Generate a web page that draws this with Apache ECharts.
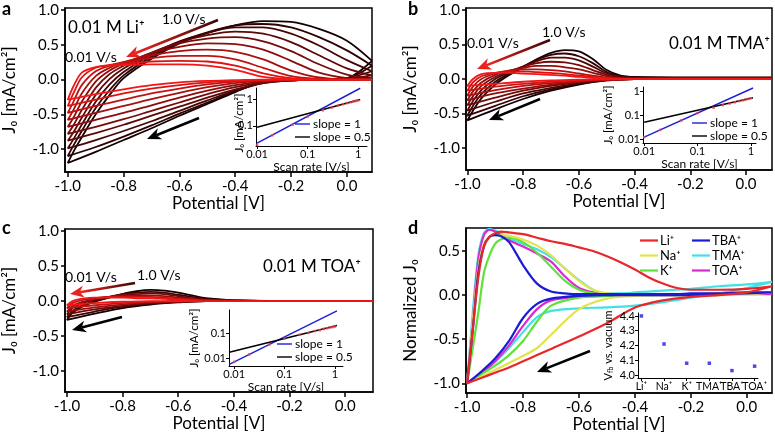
<!DOCTYPE html>
<html>
<head>
<meta charset="utf-8">
<script src="https://cdn.jsdelivr.net/npm/echarts@6/dist/echarts.min.js"></script>
<style>
  html, body { margin: 0; background: #fff; }
  #main { width: 775px; height: 437px; }
</style>
</head>
<body>
<div id="main"></div>
<script>
// ---------- data ----------
const potTicks = [-1.0, -0.8, -0.6, -0.4, -0.2, 0.0];
const jTicks = [-1.0, -0.5, 0.0, 0.5, 1.0];
const normTicks = [-1.0, -0.5, 0.0, 0.5];

// panel a : 0.01 M Li+, slowest (red) first .. fastest (black) last
const aCathPot = [0.09, 0.0, -0.1, -0.2, -0.3, -0.4, -0.5, -0.6, -0.7, -0.8, -0.9, -1.0];
const aAnodPot = [-0.98, -0.95, -0.9, -0.85, -0.8, -0.7, -0.6, -0.5, -0.4, -0.3, -0.2, -0.1, 0.0, 0.09];
const aCath = [
  [0.0, 0.0, 0.0, 0.0, 0.0, -0.01, -0.02, -0.04, -0.08, -0.14, -0.21, -0.29],
  [0.0, 0.0, 0.0, 0.0, -0.01, -0.02, -0.04, -0.08, -0.13, -0.2, -0.29, -0.38],
  [0.0, 0.0, 0.0, 0.0, -0.01, -0.03, -0.07, -0.13, -0.2, -0.29, -0.38, -0.48],
  [0.0, 0.0, 0.0, -0.01, -0.02, -0.05, -0.11, -0.19, -0.28, -0.38, -0.48, -0.58],
  [0.0, 0.0, 0.0, -0.01, -0.03, -0.08, -0.16, -0.26, -0.37, -0.48, -0.58, -0.68],
  [0.02, 0.01, 0.0, -0.01, -0.04, -0.11, -0.21, -0.33, -0.45, -0.57, -0.68, -0.78],
  [0.06, 0.01, 0.0, -0.01, -0.05, -0.14, -0.26, -0.39, -0.52, -0.65, -0.77, -0.88],
  [0.12, 0.02, 0.0, -0.01, -0.05, -0.16, -0.3, -0.45, -0.6, -0.74, -0.87, -0.99],
  [0.2, 0.02, 0.0, -0.01, -0.04, -0.17, -0.33, -0.49, -0.66, -0.82, -0.97, -1.1],
  [0.27, 0.02, 0.0, -0.01, -0.03, -0.18, -0.35, -0.52, -0.7, -0.87, -1.04, -1.2]
];
const aAnod = [
  [-0.1, 0.1, 0.18, 0.2, 0.21, 0.22, 0.22, 0.2, 0.14, 0.04, 0.01, 0.0, 0.0, 0.0],
  [-0.2, 0.03, 0.17, 0.21, 0.23, 0.26, 0.27, 0.26, 0.2, 0.09, 0.02, 0.0, 0.0, 0.0],
  [-0.32, -0.08, 0.12, 0.2, 0.25, 0.31, 0.34, 0.34, 0.29, 0.17, 0.05, 0.01, 0.0, 0.0],
  [-0.44, -0.2, 0.05, 0.17, 0.25, 0.35, 0.41, 0.43, 0.4, 0.29, 0.13, 0.03, 0.0, 0.0],
  [-0.55, -0.32, -0.03, 0.13, 0.23, 0.38, 0.47, 0.52, 0.51, 0.43, 0.27, 0.1, 0.02, 0.0],
  [-0.66, -0.44, -0.12, 0.08, 0.2, 0.39, 0.52, 0.59, 0.61, 0.55, 0.41, 0.22, 0.07, 0.02],
  [-0.76, -0.55, -0.22, 0.01, 0.16, 0.38, 0.54, 0.64, 0.69, 0.66, 0.54, 0.35, 0.16, 0.06],
  [-0.86, -0.65, -0.32, -0.07, 0.11, 0.36, 0.55, 0.67, 0.75, 0.75, 0.66, 0.49, 0.28, 0.12],
  [-0.95, -0.74, -0.41, -0.15, 0.06, 0.33, 0.54, 0.68, 0.78, 0.8, 0.75, 0.61, 0.42, 0.2],
  [-1.04, -0.83, -0.5, -0.22, 0.02, 0.3, 0.52, 0.67, 0.78, 0.84, 0.83, 0.73, 0.56, 0.27]
];

// panel b : 0.01 M TMA+
const bCathPot = [0.09, 0.0, -0.2, -0.4, -0.5, -0.6, -0.7, -0.8, -0.9, -1.0];
const bAnodPot = [-0.98, -0.95, -0.9, -0.85, -0.8, -0.75, -0.7, -0.65, -0.6, -0.55, -0.5, -0.45, -0.4, -0.2, 0.0, 0.09];
const bCath = [
  [0.0, 0.0, 0.0, 0.0, 0.0, -0.01, -0.02, -0.04, -0.07, -0.1],
  [0.0, 0.0, 0.0, 0.0, -0.01, -0.02, -0.04, -0.07, -0.11, -0.17],
  [0.0, 0.0, 0.0, 0.0, -0.01, -0.03, -0.06, -0.1, -0.16, -0.24],
  [0.01, 0.01, 0.01, 0.0, -0.01, -0.04, -0.08, -0.14, -0.21, -0.31],
  [0.01, 0.01, 0.01, 0.0, -0.01, -0.05, -0.1, -0.17, -0.27, -0.38],
  [0.02, 0.01, 0.01, 0.0, -0.01, -0.06, -0.13, -0.21, -0.33, -0.46],
  [0.02, 0.02, 0.01, 0.0, -0.02, -0.07, -0.15, -0.25, -0.39, -0.53],
  [0.02, 0.02, 0.01, 0.0, -0.02, -0.08, -0.17, -0.29, -0.44, -0.6]
];
const bAnod = [
  [0.0, 0.07, 0.09, 0.09, 0.08, 0.07, 0.06, 0.05, 0.03, 0.02, 0.01, 0.0, 0.0, 0.0, 0.0, 0.0],
  [-0.05, 0.04, 0.09, 0.11, 0.11, 0.1, 0.09, 0.07, 0.05, 0.03, 0.01, 0.0, 0.0, 0.0, 0.0, 0.0],
  [-0.11, 0.0, 0.08, 0.12, 0.14, 0.14, 0.13, 0.11, 0.08, 0.05, 0.02, 0.01, 0.0, 0.0, 0.0, 0.0],
  [-0.18, -0.05, 0.06, 0.12, 0.16, 0.19, 0.19, 0.17, 0.14, 0.09, 0.04, 0.01, 0.01, 0.01, 0.01, 0.01],
  [-0.25, -0.1, 0.03, 0.11, 0.18, 0.23, 0.25, 0.24, 0.2, 0.13, 0.06, 0.02, 0.01, 0.01, 0.01, 0.01],
  [-0.32, -0.16, 0.0, 0.1, 0.18, 0.26, 0.31, 0.31, 0.27, 0.18, 0.08, 0.03, 0.02, 0.02, 0.02, 0.02],
  [-0.39, -0.22, -0.04, 0.08, 0.18, 0.28, 0.35, 0.37, 0.33, 0.23, 0.1, 0.04, 0.02, 0.02, 0.02, 0.02],
  [-0.46, -0.28, -0.08, 0.06, 0.17, 0.29, 0.38, 0.42, 0.4, 0.29, 0.13, 0.05, 0.03, 0.02, 0.02, 0.02]
];

// panel c : 0.01 M TOA+
const cCathPot = [0.1, 0.0, -0.2, -0.4, -0.5, -0.6, -0.7, -0.8, -0.9, -1.0];
const cAnodPot = [-0.98, -0.95, -0.9, -0.85, -0.8, -0.75, -0.7, -0.65, -0.6, -0.55, -0.5, -0.4, -0.2, 0.0, 0.1];
const cCath = [
  [0, 0, 0, 0, 0, 0, 0, -0.01, -0.03, -0.06],
  [0, 0, 0, 0, 0, 0, -0.01, -0.03, -0.06, -0.1],
  [0, 0, 0, 0, 0, -0.01, -0.02, -0.05, -0.09, -0.15],
  [0, 0, 0, 0, 0, -0.01, -0.03, -0.07, -0.12, -0.19],
  [0, 0, 0, 0, 0, -0.01, -0.04, -0.08, -0.15, -0.23],
  [0, 0, 0, 0, 0, -0.02, -0.05, -0.1, -0.18, -0.27]
];
const cAnod = [
  [0.0, 0.03, 0.05, 0.05, 0.05, 0.04, 0.04, 0.03, 0.02, 0.01, 0.0, 0.0, 0.0, 0.0, 0.0],
  [-0.03, 0.01, 0.04, 0.06, 0.06, 0.06, 0.06, 0.05, 0.03, 0.02, 0.01, 0.0, 0.0, 0.0, 0.0],
  [-0.07, -0.02, 0.03, 0.06, 0.08, 0.08, 0.08, 0.07, 0.05, 0.03, 0.01, 0.0, 0.0, 0.0, 0.0],
  [-0.1, -0.04, 0.02, 0.06, 0.09, 0.1, 0.11, 0.1, 0.07, 0.04, 0.02, 0.01, 0.0, 0.0, 0.0],
  [-0.14, -0.07, 0.0, 0.05, 0.1, 0.12, 0.13, 0.12, 0.09, 0.06, 0.03, 0.01, 0.0, 0.0, 0.0],
  [-0.17, -0.09, -0.01, 0.05, 0.1, 0.14, 0.16, 0.15, 0.12, 0.08, 0.04, 0.01, 0.0, 0.0, 0.0]
];

// insets a-c : peak current vs scan rate
const scanRates = [0.01, 0.02, 0.05, 0.1, 0.2, 0.3, 0.4, 0.5, 0.6, 0.7, 0.8, 0.9, 1.0];
const peakA = [0.02, 0.045, 0.11, 0.22, 0.38, 0.48, 0.57, 0.64, 0.7, 0.75, 0.8, 0.84, 0.88];
const peakB = [0.012, 0.024, 0.06, 0.12, 0.2, 0.26, 0.3, 0.34, 0.38, 0.41, 0.44, 0.47, 0.5];
const peakC = [0.007, 0.014, 0.035, 0.06, 0.085, 0.1, 0.12, 0.13, 0.145, 0.155, 0.165, 0.172, 0.18];
const fitRateAB = [0.01, 1.1];
const fitRateC = [0.008, 1.1];
const slope1A = [0.023, 2.5], slopeHalfA = [0.09, 0.95];
const slope1B = [0.012, 1.33], slopeHalfB = [0.05, 0.52];
const slope1C = [0.0056, 0.77], slopeHalfC = [0.017, 0.2];

// panel d : normalized CVs
const dAnodPot = [-1.0, -0.98, -0.96, -0.94, -0.92, -0.9, -0.88, -0.85, -0.8, -0.75, -0.7, -0.65, -0.6, -0.55, -0.5, -0.45, -0.4, -0.35, -0.3, -0.25, -0.2, -0.1, 0.0, 0.09];
const dCathPot = [0.09, 0.0, -0.1, -0.2, -0.3, -0.4, -0.5, -0.6, -0.7, -0.75, -0.8, -0.85, -0.9, -0.95, -1.0];
const ionNames = ['Li⁺', 'Na⁺', 'K⁺', 'TBA⁺', 'TMA⁺', 'TOA⁺'];
const liAnod = [-1.0, -0.4, 0.2, 0.55, 0.66, 0.7, 0.72, 0.71, 0.69, 0.65, 0.61, 0.58, 0.54, 0.5, 0.44, 0.37, 0.29, 0.2, 0.13, 0.08, 0.06, 0.06, 0.07, 0.1];
const liCath = [0.1, 0.03, 0.0, -0.02, -0.06, -0.14, -0.32, -0.47, -0.61, -0.68, -0.75, -0.82, -0.88, -0.94, -1.0];
const naAnod = [-1.0, -0.3, 0.3, 0.58, 0.66, 0.68, 0.68, 0.67, 0.63, 0.56, 0.45, 0.3, 0.16, 0.06, 0.02, 0.01, 0.01, 0.01, 0.01, 0.01, 0.01, 0.02, 0.02, 0.03];
const naCath = [0.03, 0.01, 0.0, 0.0, 0.0, -0.01, -0.04, -0.16, -0.45, -0.6, -0.69, -0.77, -0.85, -0.93, -1.0];
const kAnod = [-1.0, -0.6, -0.2, 0.25, 0.45, 0.58, 0.63, 0.65, 0.6, 0.48, 0.32, 0.16, 0.06, 0.02, 0.01, 0.01, 0.01, 0.01, 0.01, 0.01, 0.01, 0.02, 0.02, 0.03];
const kCath = [0.03, 0.02, 0.01, 0.0, 0.0, 0.0, -0.01, -0.03, -0.12, -0.3, -0.52, -0.68, -0.8, -0.9, -1.0];
const tbaAnod = [-1.0, -0.4, 0.25, 0.55, 0.66, 0.68, 0.67, 0.6, 0.34, 0.13, 0.04, 0.02, 0.01, 0.01, 0.01, 0.01, 0.01, 0.01, 0.01, 0.01, 0.02, 0.02, 0.03, 0.03];
const tbaCath = [0.03, 0.02, 0.01, 0.0, 0.0, 0.0, 0.0, -0.01, -0.04, -0.1, -0.26, -0.52, -0.72, -0.87, -1.0];
const tmaAnod = [-1.0, -0.2, 0.45, 0.7, 0.75, 0.73, 0.7, 0.64, 0.58, 0.52, 0.43, 0.3, 0.17, 0.06, 0.02, 0.02, 0.03, 0.04, 0.05, 0.06, 0.07, 0.1, 0.12, 0.15];
const tmaCath = [0.15, 0.08, 0.02, -0.03, -0.08, -0.12, -0.14, -0.15, -0.18, -0.25, -0.42, -0.6, -0.76, -0.89, -1.0];
const toaAnod = [-1.0, -0.3, 0.4, 0.68, 0.74, 0.72, 0.68, 0.62, 0.55, 0.47, 0.38, 0.21, 0.08, 0.03, 0.01, 0.01, 0.01, 0.01, 0.01, 0.01, 0.01, 0.01, 0.01, 0.01];
const toaCath = [0.01, 0.01, 0.01, 0.0, 0.0, 0.0, -0.01, -0.02, -0.06, -0.16, -0.35, -0.57, -0.75, -0.89, -1.0];

// inset d : flat band potential
const vfb = [4.40, 4.21, 4.08, 4.08, 4.03, 4.06];
const vfbIons = ['Li⁺', 'Na⁺', 'K⁺', 'TMA⁺', 'TBA⁺', 'TOA⁺'];
const vfbTicks = [4.0, 4.1, 4.2, 4.3, 4.4];

// ---------- chart ----------
const FONT = 'Lato, "DejaVu Sans", sans-serif';
const BLUE = '#1f1fd8';
const ionColors = ['#e8262b', '#e3e34c', '#5ee23c', '#1b1bd4', '#43e0e6', '#d92ad2'];
// thin line icons for legends (invisible end points keep the box 10px tall)
const LINE_ICON = 'path://M0,0 L0,0 M0,4.3 L15,4.3 L15,5.7 L0,5.7 Z M0,10 L0,10';
const THICK_ICON = 'path://M0,0 L0,0 M0,3.9 L18,3.9 L18,6.1 L0,6.1 Z M0,10 L0,10';

const chart = echarts.init(document.getElementById('main'), null, {renderer: 'canvas'});

function cvColor(k, n) {
  const t = k / (n - 1);
  const r = Math.round(242 + (20 - 242) * t);
  const g = Math.round(22 - 22 * t);
  return `rgb(${r},${g},${g})`;
}

function cvSeries(gi, cathPot, anodPot, cath, anod) {
  const n = cath.length;
  const out = [];
  for (let k = n - 1; k >= 0; k--) {
    const data = cathPot.map((x, i) => [x, cath[k][i]])
      .concat(anodPot.map((x, i) => [x, anod[k][i]]));
    out.push({
      type: 'line', xAxisIndex: gi, yAxisIndex: gi, data,
      symbol: 'none', smooth: 0.3, silent: true,
      lineStyle: {color: cvColor(k, n), width: 1.8}
    });
  }
  return out;
}

function mainX(gi, min, max) {
  return {
    type: 'value', gridIndex: gi, min, max, splitLine: {show: false},
    axisLine: {show: true, onZero: false, lineStyle: {color: '#000', width: 1.5}},
    axisTick: {show: true, customValues: potTicks, length: 5, lineStyle: {color: '#000', width: 1.5}},
    axisLabel: {customValues: potTicks, formatter: v => v.toFixed(1), color: '#000', fontSize: 15, fontFamily: FONT, margin: 7},
    name: 'Potential [V]', nameLocation: 'middle', nameGap: 23,
    nameTextStyle: {color: '#000', fontSize: 17, fontFamily: FONT, verticalAlign: 'top'}
  };
}

function mainY(gi, min, max, ticks, name) {
  return {
    type: 'value', gridIndex: gi, min, max, splitLine: {show: false},
    axisLine: {show: true, onZero: false, lineStyle: {color: '#000', width: 1.5}},
    axisTick: {show: true, customValues: ticks, length: 4, lineStyle: {color: '#000', width: 1.5}},
    axisLabel: {customValues: ticks, formatter: v => v.toFixed(1), color: '#000', fontSize: 15, fontFamily: FONT, margin: 6},
    name, nameLocation: 'middle', nameGap: 47,
    nameTextStyle: {color: '#000', fontSize: 17, fontFamily: FONT}
  };
}

const logFmt = v => v >= 1 ? v.toFixed(0) : (v >= 0.1 ? v.toFixed(1) : v.toFixed(2));

function insetX(gi, min, max) {
  return {
    type: 'log', logBase: 10, gridIndex: gi, min, max, z: 10, splitLine: {show: false},
    axisLine: {show: true, onZero: false, lineStyle: {color: '#000', width: 1}},
    axisTick: {show: true, customValues: [0.01, 0.1, 1], length: 3, lineStyle: {color: '#000'}},
    axisLabel: {customValues: [0.01, 0.1, 1], formatter: logFmt, color: '#000', fontSize: 11, fontFamily: FONT, margin: 3},
    name: 'Scan rate [V/s]', nameLocation: 'middle', nameGap: 14,
    nameTextStyle: {color: '#000', fontSize: 12, fontFamily: FONT, verticalAlign: 'top'}
  };
}

function insetY(gi, min, max, ticks, gap, withName) {
  return {
    type: 'log', logBase: 10, gridIndex: gi, min, max, z: 10, splitLine: {show: false},
    axisLine: {show: true, onZero: false, lineStyle: {color: '#000', width: 1}},
    axisTick: {show: true, customValues: ticks, length: 3, lineStyle: {color: '#000'}},
    axisLabel: {customValues: ticks, formatter: logFmt, color: '#000', fontSize: 11, fontFamily: FONT, margin: 3},
    name: withName ? 'J₀ [mA/cm²]' : '', nameLocation: 'middle', nameGap: gap,
    nameTextStyle: {color: '#000', fontSize: 11.5, fontFamily: FONT}
  };
}

function insetSeries(gi, fitRate, s1, sHalf, peaks) {
  return [
    {type: 'line', name: 'slope = 1', xAxisIndex: gi, yAxisIndex: gi, symbol: 'none', z: 10,
     data: fitRate.map((x, i) => [x, s1[i]]), lineStyle: {color: BLUE, width: 1.5}, itemStyle: {color: BLUE}},
    {type: 'line', name: 'slope = 0.5', xAxisIndex: gi, yAxisIndex: gi, symbol: 'none', z: 10,
     data: fitRate.map((x, i) => [x, sHalf[i]]), lineStyle: {color: '#000', width: 1.5}, itemStyle: {color: '#000'}},
    {type: 'scatter', xAxisIndex: gi, yAxisIndex: gi, symbol: 'rect', symbolSize: 2.5, z: 11,
     data: scanRates.map((x, i) => [x, peaks[i]]), itemStyle: {color: '#f0404a'}}
  ];
}

function insetLegend(left, top) {
  return {
    left, top, orient: 'vertical', padding: 0, itemGap: 1, itemWidth: 15, itemHeight: 10,
    icon: LINE_ICON, data: ['slope = 1', 'slope = 0.5'], selectedMode: false, z: 20,
    textStyle: {color: '#000', fontSize: 12, lineHeight: 10, fontFamily: FONT, padding: [0, 0, 0, -2]}
  };
}

function ionSeries(i, anod, cath) {
  return {
    type: 'line', name: ionNames[i], xAxisIndex: 3, yAxisIndex: 3, symbol: 'none', smooth: 0.3,
    data: dAnodPot.map((x, k) => [x, anod[k]]).concat(dCathPot.map((x, k) => [x, cath[k]])),
    lineStyle: {color: ionColors[i], width: 2.2}, itemStyle: {color: ionColors[i]}
  };
}

// category labels of inset d split over two axes so none of them is dropped as overlapping
function ionAxis(ticks, showLine) {
  return {
    type: 'value', gridIndex: 7, position: 'bottom', min: -0.15, max: 5.15, z: 10, splitLine: {show: false},
    axisLine: {show: showLine, onZero: false, lineStyle: {color: '#000', width: 1}},
    axisTick: {show: true, customValues: ticks, length: 3, lineStyle: {color: '#000'}},
    axisLabel: {customValues: ticks, formatter: v => vfbIons[Math.round(v)],
                color: '#000', fontSize: 10.5, fontFamily: FONT, margin: 3}
  };
}

function arrow(x1, y1, x2, y2, c1, c2) {
  const ang = Math.atan2(y2 - y1, x2 - x1), L = 14, W = 6;
  const cs = Math.cos(ang), sn = Math.sin(ang);
  const bx = x2 - L * cs, by = y2 - L * sn;
  const stroke = c1 === c2 ? c1 :
    new echarts.graphic.LinearGradient(x1, y1, bx, by, [{offset: 0, color: c1}, {offset: 1, color: c2}], true);
  return [
    {type: 'line', shape: {x1, y1, x2: bx + 4 * cs, y2: by + 4 * sn}, style: {stroke, lineWidth: 2.5}, z: 50},
    {type: 'polygon', z: 50, style: {fill: c2},
     shape: {points: [[x2, y2], [bx - W * sn, by + W * cs], [bx + 4 * cs, by + 4 * sn], [bx + W * sn, by - W * cs]]}}
  ];
}

function label(text, left, top, size, extra) {
  return Object.assign({type: 'text', left, top, z: 60,
    style: {text, fill: '#000', font: `${size}px ${FONT}`}}, extra || {});
}

function panelLetter(text, left, top) {
  return {type: 'text', left, top, z: 60, style: {text, fill: '#000', font: `bold 18px ${FONT}`}};
}

const option = {
  animation: false,
  backgroundColor: '#fff',
  textStyle: {fontFamily: FONT},
  grid: [
    {left: 62, top: 8, width: 310, height: 164, show: true, borderColor: '#000', borderWidth: 1.5},
    {left: 466, top: 8, width: 306, height: 162, show: true, borderColor: '#000', borderWidth: 1.5},
    {left: 63, top: 229, width: 310, height: 163, show: true, borderColor: '#000', borderWidth: 1.5},
    {left: 466, top: 228, width: 306, height: 165, show: true, borderColor: '#000', borderWidth: 1.5},
    {left: 256, top: 88, width: 111, height: 58},
    {left: 643, top: 87, width: 113, height: 56},
    {left: 229, top: 310, width: 114, height: 56},
    {left: 638, top: 313, width: 120, height: 65}
  ],
  xAxis: [
    mainX(0, -1.01, 0.09),
    mainX(1, -1.005, 0.093),
    mainX(2, -1.007, 0.1),
    mainX(3, -1.004, 0.09),
    insetX(4, 0.0095, 1.5),
    insetX(5, 0.0095, 1.25),
    insetX(6, 0.0079, 1.45),
    ionAxis([0, 2, 4], true),
    ionAxis([1, 3, 5], false)
  ],
  yAxis: [
    mainY(0, -1.33, 1.03, jTicks, 'J₀ [mA/cm²]'),
    mainY(1, -1.32, 1.03, jTicks, 'J₀ [mA/cm²]'),
    mainY(2, -1.3, 1.03, jTicks, 'J₀ [mA/cm²]'),
    mainY(3, -1.11, 0.76, normTicks, 'Normalized J₀'),
    insetY(4, 0.018, 2.55, [0.1, 1], 19, false),
    insetY(5, 0.0068, 1.47, [0.01, 0.1, 1], 29, true),
    insetY(6, 0.0048, 0.83, [0.01, 0.1], 28, true),
    {
      type: 'value', gridIndex: 7, min: 3.98, max: 4.42, z: 10, splitLine: {show: false},
      axisLine: {show: true, onZero: false, lineStyle: {color: '#000', width: 1}},
      axisTick: {show: true, customValues: vfbTicks, length: 3, lineStyle: {color: '#000'}},
      axisLabel: {customValues: vfbTicks, formatter: v => v.toFixed(1), color: '#000', fontSize: 11, fontFamily: FONT, margin: 3},
      name: 'V{s|fb} vs. vacuum', nameLocation: 'middle', nameGap: 24,
      nameTextStyle: {color: '#000', fontSize: 11, fontFamily: FONT,
                      rich: {s: {fontSize: 7, fontFamily: FONT, padding: [5, 0, 0, 0]}}}
    }
  ],
  legend: [
    insetLegend(295, 118),
    insetLegend(692, 117),
    insetLegend(277, 338),
    {left: 640, top: 234, orient: 'vertical', padding: 0, itemGap: 2, itemWidth: 18, itemHeight: 10,
     icon: THICK_ICON, selectedMode: false, data: ['Li⁺', 'Na⁺', 'K⁺'],
     textStyle: {color: '#000', fontSize: 13, lineHeight: 10, fontFamily: FONT, padding: [0, 0, 0, -3]}},
    {left: 692, top: 234, orient: 'vertical', padding: 0, itemGap: 2, itemWidth: 18, itemHeight: 10,
     icon: THICK_ICON, selectedMode: false, data: ['TBA⁺', 'TMA⁺', 'TOA⁺'],
     textStyle: {color: '#000', fontSize: 13, lineHeight: 10, fontFamily: FONT, padding: [0, 0, 0, -3]}}
  ],
  series: [].concat(
    cvSeries(0, aCathPot, aAnodPot, aCath, aAnod),
    cvSeries(1, bCathPot, bAnodPot, bCath, bAnod),
    cvSeries(2, cCathPot, cAnodPot, cCath, cAnod),
    [
      ionSeries(4, tmaAnod, tmaCath),
      ionSeries(5, toaAnod, toaCath),
      ionSeries(2, kAnod, kCath),
      ionSeries(1, naAnod, naCath),
      ionSeries(3, tbaAnod, tbaCath),
      ionSeries(0, liAnod, liCath)
    ],
    insetSeries(4, fitRateAB, slope1A, slopeHalfA, peakA),
    insetSeries(5, fitRateAB, slope1B, slopeHalfB, peakB),
    insetSeries(6, fitRateC, slope1C, slopeHalfC, peakC),
    [{type: 'scatter', xAxisIndex: 7, yAxisIndex: 7, symbol: 'rect', symbolSize: 3.5, z: 11,
      data: vfb.map((v, i) => [i, v]), itemStyle: {color: BLUE}}]
  ),
  graphic: {elements: [].concat(
    [
      panelLetter('a', 2, 0),
      panelLetter('b', 408, 0),
      panelLetter('c', 2, 219),
      panelLetter('d', 408, 219),
      label('0.01 M Li⁺', 68, 19, 17),
      label('1.0 V/s', 162, 12, 14),
      label('0.01 V/s', 65, 50, 14),
      label('1.0 V/s', 542, 25, 14),
      label('0.01 V/s', 467, 36, 14),
      label('0.01 M TMA⁺', 0, 35, 17, {left: null, right: 5}),
      label('0.01 V/s', 65, 270, 14),
      label('1.0 V/s', 137, 268, 14),
      label('0.01 M TOA⁺', 263, 258, 17),
      // y title of inset a, kept above the curves of panel a
      {type: 'text', x: 239, y: 123, rotation: Math.PI / 2, z: 60,
       style: {text: 'J₀ [mA/cm²]', fill: '#000', font: `11.5px ${FONT}`, align: 'center', verticalAlign: 'middle'}}
    ],
    arrow(218, 20, 126, 57, '#3a0505', '#e8231f'),
    arrow(199, 118, 147, 139, '#000', '#000'),
    arrow(550, 40, 477, 69, '#3a0505', '#e8231f'),
    arrow(540, 99, 489, 120, '#000', '#000'),
    arrow(135, 283, 70, 294, '#3a0505', '#e8231f'),
    arrow(122, 317, 72, 330, '#000', '#000'),
    arrow(590, 351, 537, 372, '#000', '#000')
  )}
};

chart.setOption(option);
</script>
</body>
</html>
